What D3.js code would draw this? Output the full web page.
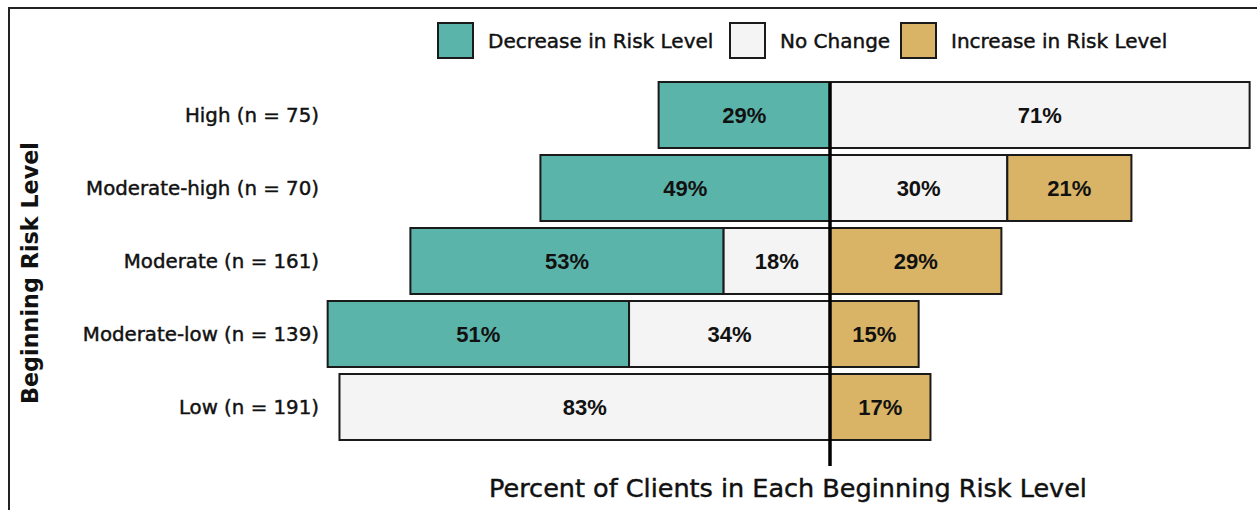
<!DOCTYPE html>
<html>
<head>
<meta charset="utf-8">
<script src="https://cdn.jsdelivr.net/npm/d3@7"></script>
<style>
  body { margin: 0; background: #fff; }
  svg { display: block; }
  .lbl { font-family: "DejaVu Sans", sans-serif; fill: #111; stroke: #111; stroke-width: 0.45px; }
  .val { font-family: "Liberation Sans", Arial, sans-serif; font-weight: bold; fill: #111; }
</style>
</head>
<body>
<div id="chart"></div>
<script>
const categories = ["High (n = 75)", "Moderate-high (n = 70)", "Moderate (n = 161)", "Moderate-low (n = 139)", "Low (n = 191)"]
const decrease = [29, 49, 53, 51, 0]
const noChange = [71, 30, 18, 34, 83]
const increase = [0, 21, 29, 15, 17]
// which side of the centre line the "No Change" piece sits on
const noChangeSide = ["right", "right", "left", "left", "left"]
const seriesNames = ["Decrease in Risk Level", "No Change", "Increase in Risk Level"]

const width = 1257
const height = 510
const colors = ["#5bb4aa", "#f4f4f4", "#d9b466"]

const svg = d3.select("#chart")
    .append("svg")
    .attr("width", width)
    .attr("height", height)

// frame
svg.append("path")
    .attr("d", `M9,${height} V8 H${width}`)
    .attr("fill", "none")
    .attr("stroke", "#222")
    .attr("stroke-width", 2)

const x = d3.scaleLinear()
    .domain([-100, 100])
    .range([830 - 591, 830 + 591])

const y = d3.scaleBand()
    .domain(categories)
    .range([78.5, 443.5])
    .paddingInner(0.096)
    .paddingOuter(0.048)

// build segments
const segments = []
categories.forEach((c, i) => {
    const d = decrease[i], n = noChange[i], inc = increase[i]
    let parts
    if (noChangeSide[i] === "left") {
        parts = [[-(d + n), -n, d, 0], [-n, 0, n, 1], [0, inc, inc, 2]]
    } else {
        parts = [[-d, 0, d, 0], [0, n, n, 1], [n, n + inc, inc, 2]]
    }
    parts.forEach(p => {
        if (p[2] > 0) segments.push({ cat: c, x0: p[0], x1: p[1], value: p[2], s: p[3] })
    })
})

svg.selectAll("rect.seg")
    .data(segments)
    .enter()
    .append("rect")
    .attr("class", "seg")
    .attr("x", d => x(d.x0))
    .attr("y", d => y(d.cat))
    .attr("width", d => x(d.x1) - x(d.x0))
    .attr("height", y.bandwidth())
    .attr("fill", d => colors[d.s])
    .attr("stroke", "#1a1a1a")
    .attr("stroke-width", 2)

svg.selectAll("text.val")
    .data(segments)
    .enter()
    .append("text")
    .attr("class", "val")
    .attr("x", d => (x(d.x0) + x(d.x1)) / 2)
    .attr("y", d => y(d.cat) + y.bandwidth() / 2)
    .attr("dy", "0.36em")
    .attr("text-anchor", "middle")
    .attr("font-size", 22)
    .text(d => d.value + "%")

// centre line
svg.append("line")
    .attr("x1", x(0)).attr("x2", x(0))
    .attr("y1", y(categories[0]))
    .attr("y2", 466)
    .attr("stroke", "#000")
    .attr("stroke-width", 3.5)

// category axis
const yAxis = d3.axisLeft(y).tickSize(0).tickPadding(0)
svg.append("g")
    .attr("transform", "translate(319,0)")
    .call(yAxis)
    .call(g => g.select(".domain").remove())
    .selectAll("text")
    .attr("class", "lbl")
    .attr("font-size", 19.8)
    .attr("dy", "0.36em")

// axis titles
svg.append("text")
    .attr("class", "lbl")
    .attr("x", 788)
    .attr("y", 497)
    .attr("text-anchor", "middle")
    .attr("font-size", 25.5)
    .text("Percent of Clients in Each Beginning Risk Level")

svg.append("text")
    .attr("class", "lbl")
    .attr("transform", "translate(38,273) rotate(-90)")
    .attr("text-anchor", "middle")
    .attr("font-size", 22.3)
    .attr("font-weight", "bold")
    .style("stroke-width", 0)
    .text("Beginning Risk Level")

// legend
const legendX = [438, 730, 901]
const legend = svg.selectAll("g.legend")
    .data(seriesNames)
    .enter()
    .append("g")
    .attr("class", "legend")
    .attr("transform", (d, i) => `translate(${legendX[i]},23)`)

legend.append("rect")
    .attr("width", 35)
    .attr("height", 35)
    .attr("fill", (d, i) => colors[i])
    .attr("stroke", "#1a1a1a")
    .attr("stroke-width", 2)

legend.append("text")
    .attr("class", "lbl")
    .attr("x", 50)
    .attr("y", 18)
    .attr("dy", "0.36em")
    .attr("font-size", 20)
    .text(d => d)
</script>
</body>
</html>
